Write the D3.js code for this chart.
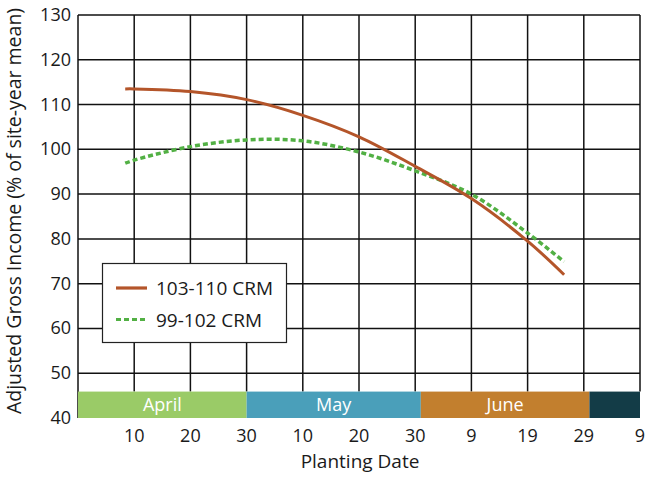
<!DOCTYPE html>
<html>
<head>
<meta charset="utf-8">
<script src="https://cdn.jsdelivr.net/npm/d3@7"></script>
<style>
  body { margin: 0; background: #fff; }
  svg text { font-family: "Open Sans", "Noto Sans", sans-serif; fill: #1a1a1a; }
</style>
</head>
<body>
<div id="chart"></div>
<script>
// days counted from March 31 (April 10 = 10, May 10 = 40, June 9 = 70 ...)
const days = [8.4, 10, 20, 30, 40, 50, 60, 70, 80, 86.5];
const late = [113.5, 113.5, 112.9, 111.1, 107.6, 102.8, 96.2, 89.0, 79.5, 72.0];   // 103-110 CRM
const early = [96.9, 97.6, 100.6, 102.1, 101.9, 99.4, 95.2, 90.0, 81.3, 74.9];   // 99-102 CRM
const tickDays = [10, 20, 30, 40, 50, 60, 70, 80, 90, 100];
const tickLabels = ["10", "20", "30", "10", "20", "30", "9", "19", "29", "9"];
const yTicks = [40, 50, 60, 70, 80, 90, 100, 110, 120, 130];
const months = ["April", "May", "June", ""];
const monthStart = [0, 30, 61, 91];
const monthEnd = [30, 61, 91, 100];
const monthColors = ["#9acb67", "#4a9fba", "#c27f2e", "#133c47"];
const seriesNames = ["103-110 CRM", "99-102 CRM"];

const W = 650, H = 477;
const svg = d3.select('#chart').append('svg').attr('width', W).attr('height', H);

const x = d3.scaleLinear().domain([0, 100]).range([78, 640]);
const y = d3.scaleLinear().domain([40, 130]).range([418, 15]);
const barTop = y(45.9);

// grid
svg.append('g').selectAll('line.h').data(yTicks.filter(d => d > 40)).enter().append('line')
  .attr('x1', x(0)).attr('x2', x(100))
  .attr('y1', d => y(d)).attr('y2', d => y(d))
  .attr('stroke', '#111').attr('stroke-width', 1.5);
svg.append('g').selectAll('line.v').data(tickDays).enter().append('line')
  .attr('x1', d => x(d)).attr('x2', d => x(d))
  .attr('y1', y(130)).attr('y2', barTop)
  .attr('stroke', '#111').attr('stroke-width', 1.5);
svg.append('line').attr('x1', x(0)).attr('x2', x(0)).attr('y1', y(130)).attr('y2', y(40))
  .attr('stroke', '#111').attr('stroke-width', 1.5);

// month bar
const mb = svg.append('g');
mb.selectAll('rect').data(months).enter().append('rect')
  .attr('x', (d, i) => x(monthStart[i]))
  .attr('width', (d, i) => x(monthEnd[i]) - x(monthStart[i]))
  .attr('y', barTop).attr('height', y(40) - barTop)
  .attr('fill', (d, i) => monthColors[i]);
mb.selectAll('text').data(months).enter().append('text')
  .attr('x', (d, i) => (x(monthStart[i]) + x(monthEnd[i])) / 2)
  .attr('y', (barTop + y(40)) / 2 + 6)
  .attr('text-anchor', 'middle')
  .style('font-size', '18px').style('fill', '#fff')
  .text(d => d);

// y tick labels
svg.append('g').selectAll('text').data(yTicks).enter().append('text')
  .attr('x', 71).attr('y', d => y(d) + 6)
  .attr('text-anchor', 'end')
  .style('font-size', '18px')
  .text(d => d);

// x tick labels
svg.append('g').selectAll('text').data(tickDays).enter().append('text')
  .attr('x', d => x(d)).attr('y', 442)
  .attr('text-anchor', 'middle')
  .style('font-size', '18px')
  .text((d, i) => tickLabels[i]);

svg.append('text').attr('x', 360).attr('y', 468).attr('text-anchor', 'middle')
  .style('font-size', '19px').text('Planting Date');
svg.append('text').attr('transform', 'translate(21,211) rotate(-90)')
  .attr('text-anchor', 'middle').style('font-size', '19.5px')
  .text('Adjusted Gross Income (% of site-year mean)');

// curves
const line = d3.line().x(d => x(d[0])).y(d => y(d[1])).curve(d3.curveCatmullRom);
svg.append('path').datum(days.map((d, i) => [d, early[i]]))
  .attr('d', line).attr('fill', 'none')
  .attr('stroke', '#52b044').attr('stroke-width', 3.5).attr('stroke-dasharray', '5,3');
svg.append('path').datum(days.map((d, i) => [d, late[i]]))
  .attr('d', line).attr('fill', 'none')
  .attr('stroke', '#b4552a').attr('stroke-width', 3);

// legend
const lg = svg.append('g');
lg.append('rect').attr('x', 102.5).attr('y', 263.5).attr('width', 184).attr('height', 79)
  .attr('fill', '#fff').attr('stroke', '#222').attr('stroke-width', 1.2);
const lgStroke = ['#b4552a', '#52b044'];
const lgDash = [null, '5,3'];
seriesNames.forEach((n, i) => {
  const ly = 288 + i * 31.5;
  lg.append('line').attr('x1', 116).attr('x2', 147).attr('y1', ly).attr('y2', ly)
    .attr('stroke', lgStroke[i]).attr('stroke-width', 3.2)
    .attr('stroke-dasharray', lgDash[i]);
  lg.append('text').attr('x', 156).attr('y', ly + 7)
    .style('font-size', '19px').text(n);
});
</script>
</body>
</html>
